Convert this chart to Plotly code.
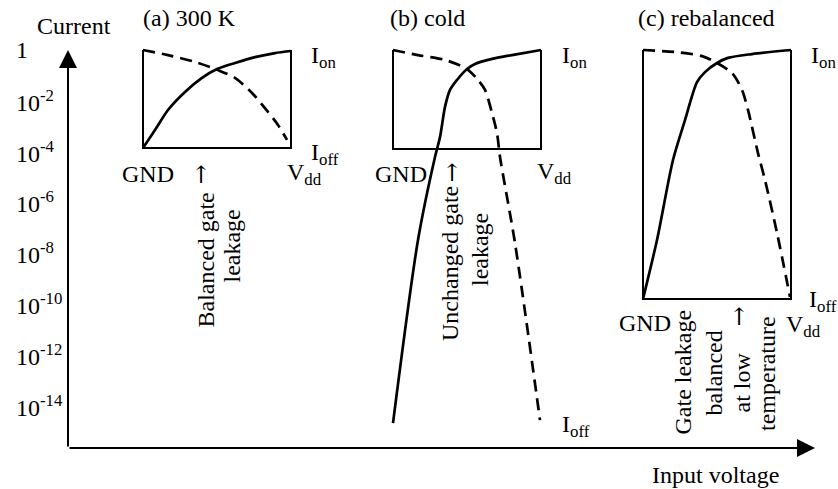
import plotly.graph_objects as go

W, H = 838, 489
FONT = "Liberation Serif"
FS = 24

# ---- axis scale: y is log10(current) (decades), x is input voltage (arbitrary units)
Y_TOP, Y_BOT = 1.969, -17.283
X_MIN, X_MAX = 0, 838

tick_exp = [0, -2, -4, -6, -8, -10, -12, -14]
tick_text = ["1", "10<sup>-2</sup>", "10<sup>-4</sup>", "10<sup>-6</sup>",
             "10<sup>-8</sup>", "10<sup>-10</sup>", "10<sup>-12</sup>", "10<sup>-14</sup>"]

axis_origin = (68, -15.67)
y_axis_end = 0.0
x_axis_end = 815

# ---- panel boxes: (gnd_x, vdd_x, top_exp, bottom_exp)
box_a = (143, 291, 0.0, -3.86)
box_b = (393, 541, 0.0, -3.90)
box_c = (643, 791, 0.0, -9.80)

# ---- curves (x = input voltage, y = log10 current)
a_on_x = [143, 155, 168, 185, 202, 217, 235, 255, 275, 291]
a_on_y = [-3.86, -3.15, -2.36, -1.65, -1.10, -0.75, -0.51, -0.28, -0.12, -0.04]
a_off_x = [143, 168, 195, 218, 235, 252, 268, 278, 287]
a_off_y = [0.0, -0.20, -0.47, -0.79, -1.10, -1.69, -2.44, -2.95, -3.54]

b_on_x = [393, 418, 435, 440, 445, 450, 457, 467, 475, 492, 512, 541]
b_on_y = [-14.69, -7.48, -4.21, -3.43, -2.24, -1.57, -1.18, -0.75, -0.55, -0.35, -0.20, 0.0]
b_off_x = [393, 418, 445, 467, 478, 485, 492, 497, 500, 515, 540]
b_off_y = [0.0, -0.20, -0.39, -0.75, -1.18, -1.57, -2.48, -3.27, -4.21, -7.60, -14.57]

c_on_x = [643, 657, 673, 685, 697, 705, 717, 728, 752, 791]
c_on_y = [-9.80, -7.48, -4.33, -2.76, -1.26, -0.87, -0.51, -0.31, -0.16, 0.0]
c_off_x = [643, 675, 702, 717, 732, 742, 748, 758, 765, 777, 790]
c_off_y = [0.0, -0.08, -0.24, -0.51, -0.91, -1.57, -2.36, -4.06, -5.12, -7.20, -9.72]

fig = go.Figure()

for gx, vx, top, bot in (box_a, box_b, box_c):
    fig.add_trace(go.Scatter(x=[gx, gx, vx, vx], y=[top, bot, bot, top], mode="lines",
                             line=dict(color="black", width=2), hoverinfo="skip"))

for xs, ys in ((a_on_x, a_on_y), (b_on_x, b_on_y), (c_on_x, c_on_y)):
    fig.add_trace(go.Scatter(x=xs, y=ys, mode="lines",
                             line=dict(color="black", width=2.7, shape="spline", smoothing=0.8)))
for xs, ys in ((a_off_x, a_off_y), (b_off_x, b_off_y), (c_off_x, c_off_y)):
    fig.add_trace(go.Scatter(x=xs, y=ys, mode="lines",
                             line=dict(color="black", width=2.7, shape="spline", smoothing=0.8,
                                       dash="12px,7px")))

ann = []
# axis arrows
ox, oy = axis_origin
ann.append(dict(x=ox, y=y_axis_end, ax=ox, ay=oy, xref="x", yref="y", axref="x", ayref="y",
                text="", showarrow=True, arrowhead=2, arrowsize=1.8, arrowwidth=2, arrowcolor="black"))
ann.append(dict(x=x_axis_end, y=oy, ax=ox, ay=oy, xref="x", yref="y", axref="x", ayref="y",
                text="", showarrow=True, arrowhead=2, arrowsize=1.8, arrowwidth=2, arrowcolor="black"))

# tick labels
for e, t in zip(tick_exp, tick_text):
    ann.append(dict(x=14 / W, xref="paper", y=e, yref="y", text=t, showarrow=False,
                    xanchor="left", yanchor="middle", font=dict(family=FONT, size=FS, color="black")))


def P(px, py):
    return px / W, 1 - py / H


labels = [
    ("Current", 74, 26, "center", 0),
    ("(a) 300 K", 189, 18, "center", 0),
    ("(b) cold", 428, 18, "center", 0),
    ("(c) rebalanced", 706, 18, "center", 0),
    ("Input voltage", 715, 475, "center", 0),
    ("I<sub>on</sub>", 309, 57, "left", 0),
    ("I<sub>off</sub>", 309, 154, "left", 0),
    ("GND", 148, 174, "center", 0),
    ("V<sub>dd</sub>", 285, 174, "left", 0),
    ("I<sub>on</sub>", 560, 57, "left", 0),
    ("GND", 401, 174, "center", 0),
    ("V<sub>dd</sub>", 535, 173, "left", 0),
    ("I<sub>off</sub>", 560, 426, "left", 0),
    ("I<sub>on</sub>", 809, 57, "left", 0),
    ("I<sub>off</sub>", 807, 301, "left", 0),
    ("V<sub>dd</sub>", 784, 326, "left", 0),
    ("GND", 645, 323, "center", 0),
    ("Balanced gate", 205, 260.5, "center", -90),
    ("leakage", 231, 246.5, "center", -90),
    ("Unchanged gate", 450, 264, "center", -90),
    ("leakage", 480, 250, "center", -90),
    ("Gate leakage", 682, 372.5, "center", -90),
    ("balanced", 713, 373.5, "center", -90),
    ("at low", 741, 382.5, "center", -90),
    ("temperature", 767, 374, "center", -90),
]
for text, px, py, xa, ang in labels:
    x, y = P(px, py)
    ann.append(dict(x=x, y=y, xref="paper", yref="paper", text=text, showarrow=False,
                    xanchor=xa, yanchor="middle", textangle=ang,
                    font=dict(family=FONT, size=FS, color="black")))

arrows_up = [(201, 175), (452, 173), (739, 317)]
for px, py in arrows_up:
    x, y = P(px, py)
    ann.append(dict(x=x, y=y, xref="paper", yref="paper", text="↑", showarrow=False,
                    xanchor="center", yanchor="middle",
                    font=dict(family="DejaVu Serif", size=24, color="black")))

fig.update_layout(
    width=W, height=H, margin=dict(l=0, r=0, t=0, b=0),
    paper_bgcolor="white", plot_bgcolor="white", showlegend=False,
    xaxis=dict(range=[X_MIN, X_MAX], visible=False, fixedrange=True),
    yaxis=dict(range=[Y_BOT, Y_TOP], visible=False, fixedrange=True),
    annotations=ann,
)

fig.write_html("out.html", config={"displayModeBar": False},
               post_script="document.body.style.margin='0';document.body.style.overflow='hidden';")
